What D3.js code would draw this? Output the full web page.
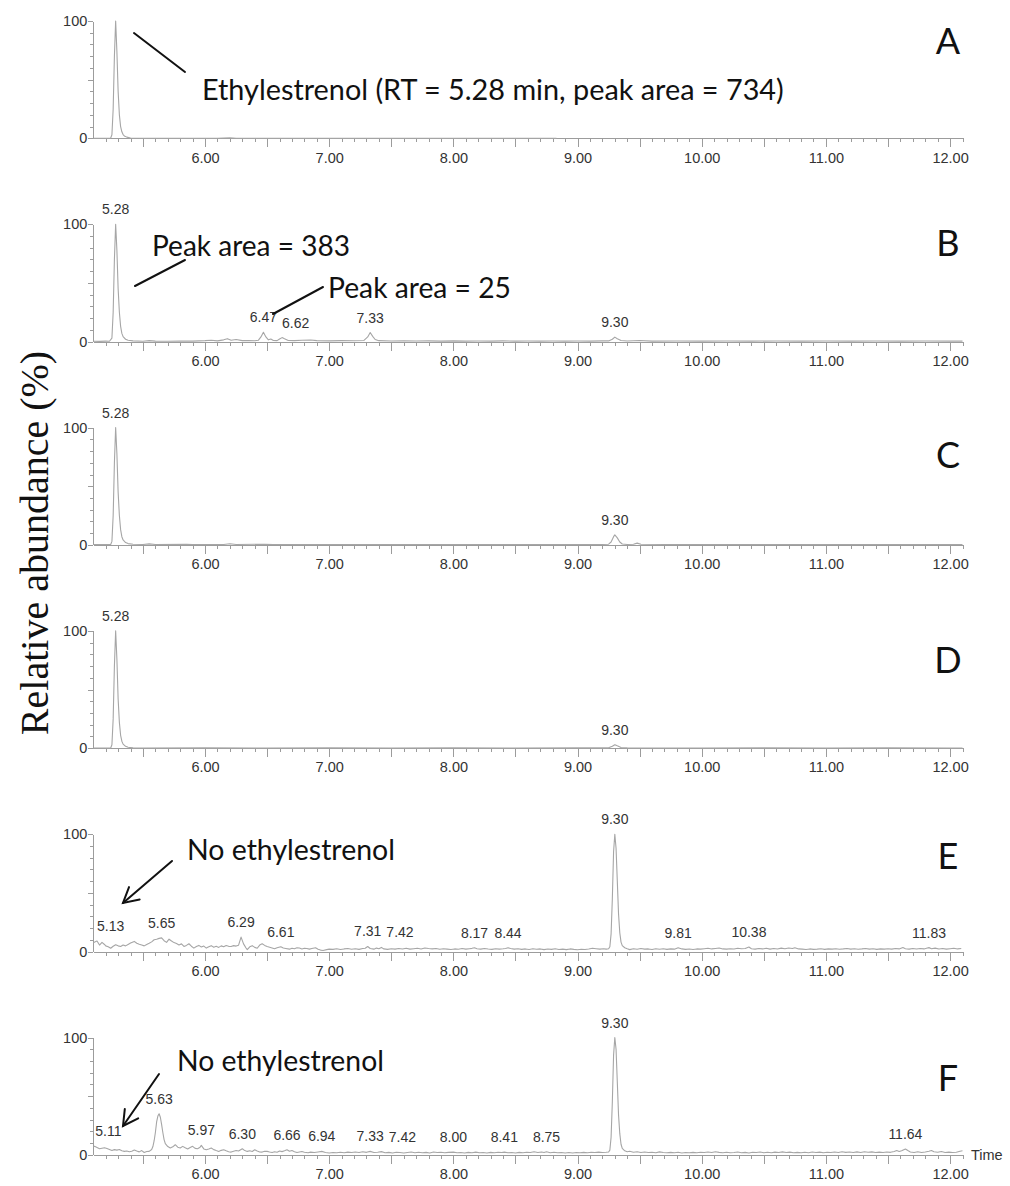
<!DOCTYPE html>
<html>
<head>
<meta charset="utf-8">
<script src="https://cdn.jsdelivr.net/npm/d3@7"></script>
<style>
  html, body { margin: 0; padding: 0; background: #fff; }
  svg { display: block; }
  .axis path, .axis line { stroke: #9c9c9c; stroke-width: 1; shape-rendering: crispEdges; }
  .axis text { font-family: "Liberation Sans", Arial, sans-serif; font-size: 14.5px; fill: #333; }
  .trace { fill: none; stroke: #a6a6a6; stroke-width: 1.1; stroke-linejoin: round; }
  .peak-label { font-family: "Liberation Sans", Arial, sans-serif; font-size: 14px; fill: #333; }
  .note { font-family: Lato, "Open Sans", sans-serif; fill: #111; }
  .panel-id { font-family: Lato, "Open Sans", sans-serif; fill: #111; font-size: 36px; }
  .pointer { stroke: #111; stroke-width: 2; fill: none; stroke-linecap: round; }
  .y-title { font-family: "Liberation Serif", "Times New Roman", serif; font-size: 40px; fill: #111; }
</style>
</head>
<body>
<svg id="chart" width="1010" height="1186"></svg>
<script>
// Retention-time axis (min) and tick labels
const timeDomain = [5.10, 12.10];
const timeLabels = [6, 7, 8, 9, 10, 11, 12];
const abundanceLabels = [0, 100];
const panelNames = ["A", "B", "C", "D", "E", "F"];

// Chromatogram traces: [retention time (min), relative abundance (%)]
const traceA = [
  [5.10, 0], [5.20, 0], [5.24, 0.2], [5.25, 3], [5.26, 25], [5.27, 70], [5.28, 100],
  [5.29, 74], [5.30, 40], [5.31, 20], [5.32, 10], [5.33, 5.5], [5.34, 3.2], [5.35, 2],
  [5.37, 1], [5.40, 0.3], [5.50, 0], [6.10, 0], [6.20, 0.5], [6.25, 0], [8.83, 0]
];
const traceB = [
  [5.10, 0.3], [5.15, 0.2], [5.20, 0.4], [5.23, 0.3], [5.25, 3], [5.26, 25], [5.27, 70],
  [5.28, 100], [5.29, 78], [5.30, 45], [5.31, 25], [5.32, 13], [5.33, 7], [5.34, 4.2],
  [5.36, 2], [5.38, 1.1], [5.42, 0.6], [5.50, 0.3], [5.55, 0.8], [5.60, 0.4], [5.70, 0.3],
  [5.80, 0.5], [5.90, 0.4], [6.00, 0.8], [6.05, 1.2], [6.10, 0.6], [6.15, 1.5], [6.18, 2.5],
  [6.21, 1.2], [6.25, 1.8], [6.30, 0.8], [6.35, 1.0], [6.40, 0.7], [6.43, 1.2], [6.45, 4],
  [6.47, 8], [6.49, 4], [6.51, 1.5], [6.53, 2.2], [6.55, 1.0], [6.58, 0.8], [6.60, 2.2],
  [6.62, 3.4], [6.64, 2.4], [6.67, 1.0], [6.72, 0.8], [6.78, 1.2], [6.85, 1.4], [6.90, 0.8],
  [7.00, 0.6], [7.10, 0.8], [7.20, 0.7], [7.28, 1.0], [7.31, 4], [7.33, 7.7], [7.35, 4.5],
  [7.37, 1.8], [7.40, 0.8], [7.50, 0.5], [7.60, 0.7], [7.70, 0.5], [7.80, 0.6], [7.90, 0.4],
  [8.00, 0.6], [8.10, 0.4], [8.20, 0.5], [8.30, 0.4], [8.40, 0.6], [8.50, 0.4], [8.60, 0.5],
  [8.70, 0.4], [8.80, 0.5], [8.90, 0.4], [9.00, 0.5], [9.10, 0.4], [9.20, 0.6], [9.25, 0.6],
  [9.28, 2], [9.30, 3.8], [9.32, 2.5], [9.35, 1.0], [9.40, 0.5], [9.50, 0.9], [9.60, 0.4],
  [9.80, 0.5], [10.00, 0.4], [10.20, 0.5], [10.40, 0.4], [10.60, 0.5], [10.80, 0.4],
  [11.00, 0.5], [11.20, 0.4], [11.40, 0.5], [11.60, 0.4], [11.80, 0.5], [12.00, 0.4], [12.10, 0.4]
];
const traceC = [
  [5.10, 0.3], [5.20, 0.3], [5.24, 0.3], [5.25, 3], [5.26, 25], [5.27, 70], [5.28, 100],
  [5.29, 78], [5.30, 45], [5.31, 25], [5.32, 13], [5.33, 7], [5.34, 4.2], [5.36, 2],
  [5.38, 1.1], [5.42, 0.5], [5.50, 0.3], [5.55, 0.9], [5.60, 0.3], [5.85, 0.6], [5.90, 0.3],
  [6.15, 0.4], [6.20, 1.0], [6.25, 0.3], [6.48, 0.6], [6.55, 0.3], [7.00, 0.4], [7.50, 0.3],
  [8.00, 0.4], [8.50, 0.3], [9.00, 0.4], [9.20, 0.4], [9.25, 0.6], [9.27, 2.5], [9.29, 7],
  [9.30, 8.5], [9.32, 6], [9.34, 2.5], [9.36, 0.8], [9.40, 0.4], [9.45, 0.6], [9.48, 1.5],
  [9.51, 0.5], [9.70, 0.3], [10.00, 0.4], [10.50, 0.3], [11.00, 0.4], [11.50, 0.3],
  [12.00, 0.4], [12.10, 0.3]
];
const traceD = [
  [5.10, 0.2], [5.20, 0.2], [5.24, 0.2], [5.25, 3], [5.26, 25], [5.27, 70], [5.28, 100],
  [5.29, 76], [5.30, 42], [5.31, 22], [5.32, 11], [5.33, 6], [5.34, 3.5], [5.36, 1.6],
  [5.38, 0.8], [5.42, 0.3], [5.50, 0.2], [6.00, 0.3], [6.50, 0.2], [7.00, 0.3], [7.50, 0.2],
  [8.00, 0.3], [8.50, 0.2], [9.00, 0.3], [9.25, 0.3], [9.28, 1.6], [9.30, 3.0], [9.32, 2.0],
  [9.35, 0.6], [9.40, 0.3], [10.00, 0.2], [10.50, 0.3], [11.00, 0.2], [11.50, 0.3],
  [12.00, 0.2], [12.10, 0.2]
];
const traceE = [
  [5.10, 7.5], [5.12, 8.5], [5.13, 9.0], [5.15, 5.5], [5.17, 7.8], [5.19, 6.0], [5.20, 4.8],
  [5.22, 4.0], [5.24, 2.8], [5.26, 4.5], [5.28, 5.8], [5.30, 4.8], [5.32, 4.2], [5.34, 5.5],
  [5.36, 4.8], [5.38, 6.0], [5.40, 7.2], [5.43, 8.6], [5.45, 7.0], [5.47, 6.2], [5.49, 5.5],
  [5.51, 4.8], [5.53, 6.0], [5.55, 7.0], [5.57, 8.2], [5.59, 10.0], [5.61, 10.5], [5.63, 11.2],
  [5.65, 11.6], [5.67, 9.2], [5.69, 7.8], [5.71, 10.5], [5.73, 9.0], [5.75, 7.6], [5.77, 6.8],
  [5.79, 5.6], [5.81, 6.5], [5.83, 4.3], [5.85, 5.2], [5.87, 6.6], [5.89, 4.5], [5.91, 2.9],
  [5.93, 4.2], [5.95, 5.2], [5.97, 3.8], [5.99, 4.6], [6.01, 2.9], [6.03, 4.0], [6.05, 5.0],
  [6.07, 3.6], [6.09, 4.4], [6.11, 3.5], [6.13, 4.8], [6.15, 4.0], [6.17, 5.1], [6.19, 4.4],
  [6.21, 4.3], [6.23, 5.0], [6.25, 4.6], [6.27, 5.4], [6.29, 12.3], [6.31, 6.5], [6.33, 3.0],
  [6.34, 1.6], [6.36, 4.0], [6.38, 5.0], [6.40, 3.5], [6.42, 2.8], [6.44, 5.5], [6.46, 6.6],
  [6.48, 5.2], [6.50, 4.2], [6.52, 3.6], [6.54, 3.0], [6.56, 2.3], [6.58, 3.2], [6.61, 4.1],
  [6.63, 3.0], [6.65, 2.6], [6.68, 2.0], [6.70, 2.8], [6.72, 2.4], [6.74, 3.2], [6.76, 3.0],
  [6.78, 2.2], [6.80, 2.8], [6.82, 2.5], [6.84, 2.0], [6.86, 2.6], [6.89, 3.2], [6.91, 2.0],
  [6.93, 1.2], [6.95, 0.9], [6.98, 1.6], [7.00, 2.0], [7.03, 1.8], [7.06, 2.4], [7.09, 1.7],
  [7.12, 2.2], [7.15, 2.6], [7.18, 1.9], [7.21, 2.3], [7.24, 1.8], [7.27, 2.5], [7.29, 2.8],
  [7.31, 4.3], [7.33, 2.6], [7.36, 2.0], [7.38, 2.9], [7.40, 2.4], [7.42, 3.5], [7.44, 2.2],
  [7.47, 1.8], [7.50, 2.4], [7.53, 2.0], [7.56, 2.6], [7.59, 2.1], [7.62, 2.7], [7.65, 2.0],
  [7.68, 2.4], [7.71, 2.8], [7.74, 2.2], [7.77, 3.0], [7.80, 2.5], [7.83, 2.2], [7.86, 2.6],
  [7.89, 1.9], [7.92, 2.3], [7.95, 2.0], [7.98, 1.7], [8.01, 2.2], [8.04, 1.9], [8.07, 2.5],
  [8.10, 2.0], [8.13, 2.4], [8.15, 2.7], [8.17, 3.2], [8.19, 2.4], [8.22, 2.0], [8.25, 2.6],
  [8.28, 2.1], [8.31, 1.8], [8.34, 2.4], [8.37, 2.0], [8.40, 2.3], [8.42, 2.6], [8.44, 3.2],
  [8.46, 2.5], [8.49, 2.0], [8.52, 2.4], [8.55, 1.8], [8.58, 2.2], [8.61, 1.7], [8.64, 2.3],
  [8.67, 1.9], [8.70, 2.2], [8.73, 1.6], [8.76, 2.1], [8.79, 1.8], [8.82, 2.3], [8.85, 1.7],
  [8.88, 2.0], [8.91, 1.6], [8.94, 2.2], [8.97, 1.8], [9.00, 1.5], [9.03, 1.9], [9.06, 1.7],
  [9.09, 2.2], [9.12, 2.8], [9.15, 2.4], [9.18, 2.0], [9.21, 2.3], [9.23, 2.0], [9.25, 2.4],
  [9.26, 4], [9.27, 15], [9.28, 45], [9.29, 85], [9.30, 100], [9.31, 88], [9.32, 60],
  [9.33, 32], [9.34, 16], [9.35, 8], [9.36, 5], [9.38, 3.2], [9.40, 2.3], [9.42, 1.6],
  [9.45, 2.4], [9.48, 1.9], [9.51, 2.6], [9.54, 2.0], [9.57, 2.2], [9.60, 1.7], [9.63, 2.4],
  [9.66, 1.9], [9.69, 2.3], [9.72, 1.8], [9.75, 2.2], [9.78, 2.0], [9.81, 3.2], [9.84, 2.2],
  [9.87, 1.8], [9.90, 2.1], [9.93, 1.7], [9.96, 2.2], [9.99, 2.0], [10.02, 2.4], [10.05, 2.8],
  [10.08, 2.2], [10.11, 2.6], [10.14, 3.0], [10.17, 2.2], [10.20, 2.0], [10.23, 2.4],
  [10.26, 2.1], [10.29, 2.8], [10.32, 2.4], [10.35, 2.6], [10.38, 3.8], [10.40, 2.4],
  [10.43, 2.0], [10.46, 2.6], [10.49, 2.2], [10.52, 2.8], [10.55, 2.0], [10.58, 2.5],
  [10.61, 2.1], [10.64, 2.9], [10.67, 2.3], [10.70, 3.0], [10.73, 2.6], [10.75, 3.2],
  [10.78, 2.2], [10.81, 2.0], [10.84, 1.7], [10.87, 2.2], [10.90, 1.8], [10.93, 2.0],
  [10.96, 2.3], [10.99, 1.8], [11.02, 2.2], [11.05, 2.0], [11.08, 2.4], [11.11, 1.9],
  [11.14, 2.2], [11.17, 2.6], [11.20, 2.0], [11.23, 2.3], [11.26, 1.9], [11.29, 2.2],
  [11.32, 2.6], [11.35, 2.0], [11.38, 2.4], [11.41, 1.8], [11.44, 2.2], [11.47, 2.0],
  [11.50, 2.3], [11.53, 2.0], [11.56, 2.6], [11.59, 2.2], [11.62, 3.4], [11.64, 2.4],
  [11.67, 2.0], [11.70, 2.5], [11.73, 2.1], [11.76, 2.6], [11.79, 2.2], [11.81, 2.8],
  [11.83, 3.3], [11.85, 2.4], [11.88, 2.9], [11.91, 2.1], [11.94, 2.6], [11.97, 2.0],
  [12.00, 2.4], [12.03, 2.8], [12.06, 2.2], [12.09, 2.5]
];
const traceF = [
  [5.10, 7.0], [5.11, 7.2], [5.13, 6.2], [5.15, 5.2], [5.17, 5.6], [5.19, 6.0], [5.21, 5.4],
  [5.23, 4.6], [5.25, 3.7], [5.27, 4.4], [5.29, 4.0], [5.31, 4.5], [5.33, 3.4], [5.35, 2.9],
  [5.37, 3.3], [5.39, 2.6], [5.41, 3.0], [5.43, 4.0], [5.45, 3.2], [5.47, 2.5], [5.49, 3.6],
  [5.51, 2.0], [5.53, 2.8], [5.55, 2.9], [5.57, 4.5], [5.58, 7], [5.59, 12], [5.60, 19],
  [5.61, 28], [5.62, 33], [5.63, 35], [5.64, 32], [5.65, 26], [5.66, 19], [5.67, 13],
  [5.68, 9.5], [5.70, 7.0], [5.72, 5.8], [5.74, 6.8], [5.76, 8.6], [5.78, 6.5], [5.80, 5.8],
  [5.82, 7.2], [5.84, 6.0], [5.86, 4.9], [5.88, 6.2], [5.90, 7.2], [5.92, 5.5], [5.94, 5.2],
  [5.96, 6.5], [5.97, 8.0], [5.99, 5.0], [6.01, 4.3], [6.03, 5.0], [6.05, 5.8], [6.07, 4.4],
  [6.09, 3.6], [6.11, 2.9], [6.13, 3.8], [6.15, 4.3], [6.17, 3.4], [6.19, 2.6], [6.21, 2.3],
  [6.23, 3.0], [6.25, 3.7], [6.27, 3.2], [6.30, 5.2], [6.32, 3.6], [6.34, 2.9], [6.36, 3.4],
  [6.38, 2.8], [6.40, 4.3], [6.42, 3.2], [6.44, 2.4], [6.46, 2.3], [6.48, 3.0], [6.50, 2.9],
  [6.52, 2.4], [6.54, 2.0], [6.56, 2.6], [6.58, 2.2], [6.60, 3.2], [6.62, 2.7], [6.64, 3.4],
  [6.66, 4.3], [6.68, 3.0], [6.70, 3.6], [6.72, 2.6], [6.74, 2.0], [6.76, 2.4], [6.78, 2.8],
  [6.80, 2.2], [6.83, 1.8], [6.85, 2.3], [6.88, 1.9], [6.91, 2.4], [6.94, 2.9], [6.97, 2.0],
  [7.00, 1.6], [7.03, 2.0], [7.06, 1.7], [7.09, 2.2], [7.12, 1.8], [7.15, 2.3], [7.18, 1.9],
  [7.21, 2.4], [7.24, 2.0], [7.27, 2.6], [7.30, 2.1], [7.33, 2.9], [7.36, 2.0], [7.39, 2.2],
  [7.42, 2.7], [7.45, 1.8], [7.48, 2.1], [7.51, 1.6], [7.54, 2.2], [7.57, 1.9], [7.60, 1.5],
  [7.63, 2.0], [7.66, 2.4], [7.69, 1.8], [7.72, 2.2], [7.75, 1.7], [7.78, 2.1], [7.81, 1.6],
  [7.84, 2.4], [7.87, 1.9], [7.90, 2.2], [7.93, 1.7], [7.96, 2.1], [8.00, 2.3], [8.03, 1.8],
  [8.06, 2.0], [8.09, 1.6], [8.12, 2.1], [8.15, 1.8], [8.18, 2.3], [8.21, 1.7], [8.24, 2.0],
  [8.27, 1.6], [8.30, 2.1], [8.33, 1.8], [8.36, 2.2], [8.39, 1.9], [8.41, 2.3], [8.44, 1.7],
  [8.47, 2.0], [8.50, 1.6], [8.53, 2.1], [8.56, 1.8], [8.59, 2.2], [8.62, 1.9], [8.65, 2.6],
  [8.68, 2.0], [8.71, 2.4], [8.73, 2.0], [8.75, 2.6], [8.78, 1.8], [8.81, 2.2], [8.84, 1.7],
  [8.87, 2.0], [8.90, 1.5], [8.93, 1.9], [8.96, 1.6], [8.99, 2.0], [9.02, 1.7], [9.05, 2.1],
  [9.08, 1.8], [9.11, 2.2], [9.14, 1.9], [9.17, 2.3], [9.20, 2.0], [9.23, 2.2], [9.25, 2.4],
  [9.26, 4], [9.27, 15], [9.28, 45], [9.29, 85], [9.30, 100], [9.31, 90], [9.32, 62],
  [9.33, 34], [9.34, 18], [9.35, 9], [9.36, 5.5], [9.38, 3.4], [9.40, 2.6], [9.42, 3.0],
  [9.45, 2.2], [9.48, 2.6], [9.51, 2.0], [9.54, 2.4], [9.57, 1.9], [9.60, 2.2], [9.63, 1.8],
  [9.66, 2.5], [9.69, 2.0], [9.72, 1.7], [9.75, 2.1], [9.78, 1.8], [9.81, 2.2], [9.84, 1.6],
  [9.87, 2.0], [9.90, 1.7], [9.93, 2.1], [9.96, 1.8], [9.99, 2.2], [10.02, 1.9], [10.05, 2.4],
  [10.08, 2.0], [10.11, 2.6], [10.14, 2.1], [10.17, 1.8], [10.20, 2.2], [10.23, 1.7],
  [10.26, 2.0], [10.29, 2.4], [10.32, 1.8], [10.35, 2.1], [10.38, 1.6], [10.41, 2.2],
  [10.44, 1.9], [10.47, 2.4], [10.50, 1.8], [10.53, 2.2], [10.56, 1.7], [10.59, 2.3],
  [10.62, 1.9], [10.65, 2.5], [10.68, 2.0], [10.71, 2.3], [10.74, 1.8], [10.77, 2.1],
  [10.80, 1.7], [10.83, 2.2], [10.86, 1.8], [10.89, 2.4], [10.92, 2.0], [10.95, 2.3],
  [10.98, 1.8], [11.01, 2.2], [11.04, 1.9], [11.07, 2.4], [11.10, 2.0], [11.13, 2.6],
  [11.16, 2.1], [11.19, 2.4], [11.22, 1.9], [11.25, 2.5], [11.28, 2.0], [11.31, 2.6],
  [11.34, 2.2], [11.37, 2.5], [11.40, 2.0], [11.43, 2.3], [11.46, 1.9], [11.49, 2.4],
  [11.52, 2.1], [11.55, 2.8], [11.57, 3.6], [11.59, 2.8], [11.61, 3.4], [11.64, 5.0],
  [11.66, 3.6], [11.68, 2.4], [11.71, 2.0], [11.74, 2.6], [11.77, 2.0], [11.80, 2.4],
  [11.83, 3.0], [11.85, 3.6], [11.87, 2.6], [11.90, 2.2], [11.93, 2.8], [11.96, 2.0],
  [11.99, 2.3], [12.02, 1.9], [12.05, 2.2], [12.08, 3.0], [12.10, 3.4]
];
const traces = [traceA, traceB, traceC, traceD, traceE, traceF];

// Labelled peak apexes (min) per chromatogram
const peaksA = [];
const peaksB = [5.28, 6.47, 6.62, 7.33, 9.30];
const peaksC = [5.28, 9.30];
const peaksD = [5.28, 9.30];
const peaksE = [5.13, 5.65, 6.29, 6.61, 7.31, 7.42, 8.17, 8.44, 9.30, 9.81, 10.38, 11.83];
const peaksF = [5.11, 5.63, 5.97, 6.30, 6.66, 6.94, 7.33, 7.42, 8.00, 8.41, 8.75, 9.30, 11.64];
const peakLists = [peaksA, peaksB, peaksC, peaksD, peaksE, peaksF];

// ---- layout ----
const svg = d3.select("#chart");
const plotLeft = 93.3, plotRight = 962.5;
const panelTop0 = 21, panelStep = 203.3, panelHeight = 117.3;
const letterCenters = [41, 243, 455, 660, 856, 1078];

const x = d3.scaleLinear().domain(timeDomain).range([plotLeft, plotRight]);
const minorTimes = d3.range(52, 122).map(i => i / 10);
const majorTimes = d3.range(11, 25).map(i => i / 2).filter(t => t <= 12.05);

function valueAt(trace, t) {
  const hit = trace.find(d => Math.abs(d[0] - t) < 1e-6);
  if (hit) return hit[1];
  const i = d3.bisector(d => d[0]).left(trace, t);
  const a = trace[Math.max(0, i - 1)], b = trace[Math.min(trace.length - 1, i)];
  if (a === b) return a[1];
  return a[1] + (b[1] - a[1]) * (t - a[0]) / (b[0] - a[0]);
}

const line = d3.line();

panelNames.forEach((name, i) => {
  const top = panelTop0 + i * panelStep;
  const y = d3.scaleLinear().domain([0, 100]).range([top + panelHeight, top]);
  const g = svg.append("g").attr("class", "panel");

  // y axis: minor ticks every 10 %, labels at 0 and 100
  g.append("g").attr("class", "axis")
    .attr("transform", `translate(${plotLeft},0)`)
    .call(d3.axisLeft(y).tickValues(d3.range(0, 101, 10)).tickSize(3).tickSizeOuter(0).tickFormat(""));
  g.append("g").attr("class", "axis")
    .attr("transform", `translate(${plotLeft},0)`)
    .call(d3.axisLeft(y).tickValues([0, 50, 100]).tickSize(5).tickSizeOuter(0).tickPadding(1)
      .tickFormat(d => abundanceLabels.includes(d) ? String(d) : ""));

  // x axis: minor ticks every 0.1 min, major every 0.5 min, labels at whole minutes
  const base = y(0);
  g.append("g").attr("class", "axis")
    .attr("transform", `translate(0,${base})`)
    .call(d3.axisBottom(x).tickValues(minorTimes).tickSize(4).tickSizeOuter(0).tickFormat(""));
  g.append("g").attr("class", "axis")
    .attr("transform", `translate(0,${base})`)
    .call(d3.axisBottom(x).tickValues(majorTimes).tickSize(9).tickSizeOuter(0).tickPadding(5)
      .tickFormat(d => timeLabels.includes(d) ? d3.format(".2f")(d) : ""));

  // trace
  const trace = traces[i];
  g.append("path").attr("class", "trace")
    .attr("d", line.x(d => x(d[0])).y(d => y(d[1]))(trace));

  // peak retention-time labels, nudged right when they would collide
  let lastRight = -Infinity;
  peakLists[i].slice().sort((a, b) => a - b).forEach(t => {
    const px = x(t);
    const lab = g.append("text").attr("class", "peak-label")
      .attr("y", y(valueAt(trace, t)) - 10)
      .text(d3.format(".2f")(t));
    const w = lab.node().getComputedTextLength();
    let left = px - w / 2;
    if (left < plotLeft + 2) left = Math.max(px, plotLeft + 2);
    if (left < lastRight + 5) left = lastRight + 5;
    lab.attr("x", left);
    lastRight = left + w;
  });

  // panel letter
  g.append("text").attr("class", "panel-id")
    .attr("x", 948).attr("y", letterCenters[i])
    .attr("text-anchor", "middle")
    .attr("dy", "0.36em")
    .text(name);
});

// "Time" caption at the end of the last axis
svg.append("text")
  .attr("x", 971).attr("y", panelTop0 + 5 * panelStep + panelHeight + 5)
  .style("font-family", '"Liberation Sans", Arial, sans-serif')
  .style("font-size", "14.5px").style("fill", "#333")
  .text("Time");

// Shared y-axis title
svg.append("text").attr("class", "y-title")
  .attr("transform", "translate(48,543) rotate(-90)")
  .attr("text-anchor", "middle")
  .text("Relative abundance (%)");

// Call-out notes: text with its target width, and pointer lines
const notes = [
  { text: "Ethylestrenol (RT = 5.28 min, peak area = 734)", x: 202, y: 100, w: 582 },
  { text: "Peak area = 383", x: 152, y: 256, w: 198 },
  { text: "Peak area = 25", x: 328, y: 298, w: 183 },
  { text: "No ethylestrenol", x: 187, y: 860, w: 208 },
  { text: "No ethylestrenol", x: 177, y: 1071, w: 207 }
];
notes.forEach(n => {
  const t = svg.append("text").attr("class", "note")
    .attr("x", n.x).attr("y", n.y).style("font-size", "30px").text(n.text);
  const len = t.node().getComputedTextLength();
  t.style("font-size", (30 * n.w / len).toFixed(2) + "px");
});

const pointers = [
  { from: [134, 33], to: [185, 72], arrow: false },
  { from: [185, 260], to: [135, 286], arrow: false },
  { from: [323, 287], to: [273, 314], arrow: false },
  { from: [172, 861], to: [123, 903], arrow: true },
  { from: [159, 1074], to: [123, 1126], arrow: true }
];
pointers.forEach(p => {
  svg.append("line").attr("class", "pointer")
    .attr("x1", p.from[0]).attr("y1", p.from[1])
    .attr("x2", p.to[0]).attr("y2", p.to[1]);
  if (p.arrow) {
    const ang = Math.atan2(p.from[1] - p.to[1], p.from[0] - p.to[0]);
    const L = 17, spread = 0.5;
    const a1 = [p.to[0] + L * Math.cos(ang - spread), p.to[1] + L * Math.sin(ang - spread)];
    const a2 = [p.to[0] + L * Math.cos(ang + spread), p.to[1] + L * Math.sin(ang + spread)];
    svg.append("path").attr("class", "pointer")
      .attr("d", `M${a1[0]},${a1[1]}L${p.to[0]},${p.to[1]}L${a2[0]},${a2[1]}`);
  }
});
</script>
</body>
</html>
